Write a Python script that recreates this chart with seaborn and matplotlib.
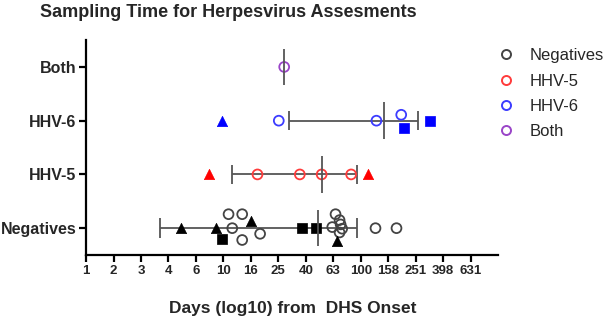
import seaborn as sns
import matplotlib.pyplot as plt
import numpy as np
import pandas as pd
from matplotlib.lines import Line2D

# categories (bottom to top)
categories = ["Negatives", "HHV-5", "HHV-6", "Both"]

# Negatives
neg_circles = [10.9, 13.7, 11.6, 18.5, 13.7, 65.5, 70.1, 71.3, 62.0, 73.2, 70.1, 128, 182]
neg_circles_jit = [0.26, 0.26, 0, -0.105, -0.22, 0.26, 0.15, 0.07, 0.02, -0.01, -0.08, 0, 0]
neg_triangles = [4.94, 8.85, 15.9, 67.3]
neg_triangles_jit = [0, 0, 0.13, -0.24]
neg_squares = [9.84, 37.2, 47.0]
neg_squares_jit = [-0.2, 0, 0]
neg_range = [3.48, 49.1, 93.5]  # low, median, high

# HHV-5
hhv5_circles = [17.7, 36.0, 51.9, 85.1]
hhv5_triangles = [7.88, 113]
hhv5_range = [11.6, 51.9, 93.1]

# HHV-6
hhv6_circles = [25.3, 130, 197]
hhv6_circles_jit = [0, 0, 0.11]
hhv6_squares = [205, 320]
hhv6_squares_jit = [-0.13, 0]
hhv6_triangles = [9.84]
hhv6_range = [30.1, 148.6, 263]

# Both
both_circles = [27.7]
both_median = 27.7

xtick_labels = ["1", "2", "3", "4", "6", "10", "16", "25", "40", "63",
                "100", "158", "251", "398", "631"]

colors = {"Negatives": "#444444", "HHV-5": "#ff3b3b", "HHV-6": "#3c3cff", "Both": "#9a45c8"}
fill_colors = {"Negatives": "#000000", "HHV-5": "#ff0000", "HHV-6": "#0000ff"}

rows = []
def add(group, kind, vals, jit=None):
    if jit is None:
        jit = [0] * len(vals)
    for v, j in zip(vals, jit):
        rows.append({"group": group, "kind": kind, "days": v,
                     "y": categories.index(group) + j})

add("Negatives", "circle", neg_circles, neg_circles_jit)
add("Negatives", "triangle", neg_triangles, neg_triangles_jit)
add("Negatives", "square", neg_squares, neg_squares_jit)
add("HHV-5", "circle", hhv5_circles)
add("HHV-5", "triangle", hhv5_triangles)
add("HHV-6", "circle", hhv6_circles, hhv6_circles_jit)
add("HHV-6", "square", hhv6_squares, hhv6_squares_jit)
add("HHV-6", "triangle", hhv6_triangles)
add("Both", "circle", both_circles)
df = pd.DataFrame(rows)

sns.set_style("ticks")
plt.rcParams["font.family"] = ["Liberation Sans", "DejaVu Sans"]

fig = plt.figure(figsize=(6.06, 3.18), dpi=100)
ax = fig.add_axes([0.142, 0.198, 0.680, 0.676])

# range bars
bar_col = "#555555"
for group, rng in [("Negatives", neg_range), ("HHV-5", hhv5_range), ("HHV-6", hhv6_range)]:
    yc = categories.index(group)
    ax.hlines(yc, rng[0], rng[2], color=bar_col, lw=1.3, zorder=1)
    ax.vlines([rng[0], rng[2]], yc - 0.18, yc + 0.18, color=bar_col, lw=1.3, zorder=1)
    ax.vlines(rng[1], yc - 0.34, yc + 0.34, color=bar_col, lw=1.3, zorder=4)
ax.vlines(both_median, 3 - 0.34, 3 + 0.34, color=bar_col, lw=1.3, zorder=4)

for group in categories:
    sub = df[df["group"] == group]
    c = sub[sub["kind"] == "circle"]
    sns.scatterplot(data=c, x="days", y="y", marker="o", s=50,
                    facecolors="none", edgecolor=colors[group], linewidth=1.3,
                    ax=ax, zorder=3)
    t = sub[sub["kind"] == "triangle"]
    if len(t):
        sns.scatterplot(data=t, x="days", y="y", marker="^", s=55,
                        color=fill_colors[group], edgecolor=fill_colors[group],
                        linewidth=0.5, ax=ax, zorder=3)
    q = sub[sub["kind"] == "square"]
    if len(q):
        sns.scatterplot(data=q, x="days", y="y", marker="s", s=48,
                        color=fill_colors[group], edgecolor=fill_colors[group],
                        linewidth=0.5, ax=ax, zorder=3)

ax.set_xscale("log")
ax.set_xlim(1, 1000)
ax.set_xticks(10 ** np.arange(0, 2.81, 0.2))
ax.set_xticklabels(xtick_labels, fontsize=9.5, fontweight="bold")
ax.minorticks_off()
ax.set_ylim(-0.5, 3.5)
ax.set_yticks(range(len(categories)))
ax.set_yticklabels(categories, fontsize=11.5, fontweight="bold")
ax.set_xlabel("")
ax.set_ylabel("")

for s in ["top", "right"]:
    ax.spines[s].set_visible(False)
for s in ["left", "bottom"]:
    ax.spines[s].set_linewidth(1.6)
    ax.spines[s].set_color("black")
ax.tick_params(axis="both", width=1.6, length=5, color="black", pad=2)

fig.text(0.376, 0.960, "Sampling Time for Herpesvirus Assesments",
         ha="center", va="center", fontsize=13, fontweight="bold")
fig.text(0.4835, 0.031, "Days (log10) from  DHS Onset",
         ha="center", va="center", fontsize=12.5, fontweight="bold")

handles = [Line2D([], [], marker="o", ls="none", markersize=6.5,
                  markerfacecolor="none", markeredgecolor=colors[g],
                  markeredgewidth=1.4, label=g) for g in categories]
fig.legend(handles=handles, loc="upper left", bbox_to_anchor=(0.81, 0.869),
           frameon=False, fontsize=12, handletextpad=0.95, labelspacing=0.62,
           handlelength=1.0, borderaxespad=0)

fig.savefig("out.png", dpi=100)
